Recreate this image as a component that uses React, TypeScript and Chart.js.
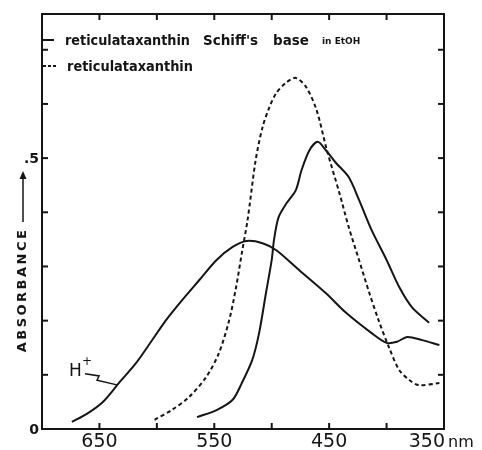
import React, { useEffect, useRef } from "react";
import { Chart, registerables } from "chart.js";

Chart.register(...registerables);

// Reticulataxanthin Schiff's base in EtOH (solid)
const schiffWavelengths = [565, 548, 534, 526, 517, 511, 505, 500, 498, 494, 487, 479, 474, 467, 460, 453, 444, 433, 424, 413, 400, 389, 378, 363];
const schiffAbsorbance = [0.022, 0.035, 0.054, 0.085, 0.127, 0.177, 0.251, 0.312, 0.349, 0.391, 0.417, 0.441, 0.478, 0.515, 0.530, 0.515, 0.491, 0.465, 0.423, 0.367, 0.312, 0.262, 0.225, 0.196];

// Protonated Schiff's base (H+, solid)
const protonWavelengths = [674, 661, 647, 633, 618, 607, 592, 578, 563, 548, 534, 522, 508, 496, 476, 453, 435, 413, 400, 391, 382, 369, 354];
const protonAbsorbance = [0.013, 0.028, 0.050, 0.085, 0.122, 0.155, 0.201, 0.238, 0.275, 0.312, 0.336, 0.347, 0.343, 0.330, 0.293, 0.251, 0.214, 0.177, 0.159, 0.161, 0.170, 0.164, 0.155];

// Reticulataxanthin (dashed)
const retWavelengths = [602, 587, 572, 557, 546, 537, 531, 526, 521, 514, 508, 502, 496, 487, 479, 470, 461, 452, 441, 433, 424, 415, 407, 398, 389, 380, 372, 354];
const retAbsorbance = [0.017, 0.035, 0.059, 0.096, 0.140, 0.201, 0.262, 0.325, 0.386, 0.496, 0.557, 0.594, 0.620, 0.640, 0.648, 0.631, 0.589, 0.515, 0.435, 0.373, 0.312, 0.251, 0.201, 0.151, 0.109, 0.090, 0.081, 0.085];

const xTickValues = [400, 450, 500, 550, 600, 650];
const xLabelValues = [650, 550, 450];
const xLastLabel = 350;
const yTickValues = [0.1, 0.2, 0.3, 0.4, 0.5, 0.6, 0.7];
const yLabelValues = [0, 0.5];
const yLabelTexts = ["0", ".5"];

// H+ callout squiggle, in data coordinates (wavelength, absorbance)
const calloutWavelengths = [662.5, 650.3, 652.1, 633.8];
const calloutAbsorbance = [0.102, 0.098, 0.090, 0.081];

const legendSolid = "reticulataxanthin";
const legendSolidRest1 = "Schiff's";
const legendSolidRest2 = "base";
const legendSolidSolvent = "in EtOH";
const legendDashed = "reticulataxanthin";

const INK = "#151515";

const toPoints = (xs: number[], ys: number[]) => xs.map((x, i) => ({ x, y: ys[i] }));

const decoPlugin = {
  id: "deco",
  afterDatasetsDraw(chart: any) {
    const { ctx, chartArea: a, scales } = chart;
    const x = scales.x;
    const y = scales.y;
    ctx.save();
    ctx.strokeStyle = INK;
    ctx.fillStyle = INK;
    ctx.lineWidth = 2;
    ctx.lineCap = "butt";
    ctx.setLineDash([]);
    ctx.strokeRect(a.left, a.top, a.right - a.left, a.bottom - a.top);

    const seg = (x1: number, y1: number, x2: number, y2: number) => {
      ctx.beginPath();
      ctx.moveTo(x1, y1);
      ctx.lineTo(x2, y2);
      ctx.stroke();
    };
    xTickValues.forEach((v) => {
      const px = x.getPixelForValue(v);
      seg(px, a.bottom, px, a.bottom - 6);
      seg(px, a.top, px, a.top + 6);
    });
    yTickValues.forEach((v) => {
      const py = y.getPixelForValue(v);
      seg(a.left, py, a.left + 6, py);
      seg(a.right, py, a.right - 6, py);
    });

    // x labels
    ctx.font = '19px "DejaVu Sans"';
    ctx.textBaseline = "alphabetic";
    ctx.textAlign = "center";
    xLabelValues.forEach((v) => {
      ctx.fillText(String(v), x.getPixelForValue(v), 447);
    });
    ctx.textAlign = "right";
    const p350 = x.getPixelForValue(xLastLabel);
    ctx.fillText(String(xLastLabel), p350 + 1, 447);
    ctx.textAlign = "left";
    ctx.font = '16px "DejaVu Sans"';
    ctx.fillText("nm", p350 + 4, 447);

    // y labels
    ctx.textAlign = "right";
    ctx.textBaseline = "middle";
    ctx.font = 'bold 14px "DejaVu Sans"';
    yLabelValues.forEach((v, i) => {
      ctx.fillText(yLabelTexts[i], a.left - 3, y.getPixelForValue(v) + 1);
    });

    // ABSORBANCE title with arrow
    ctx.save();
    ctx.translate(23, 290);
    ctx.rotate(-Math.PI / 2);
    ctx.textAlign = "center";
    ctx.textBaseline = "middle";
    ctx.font = 'bold 13px "DejaVu Sans"';
    try { (ctx as any).letterSpacing = "2.5px"; } catch (e) {}
    ctx.fillText("ABSORBANCE", 0, 0);
    try { (ctx as any).letterSpacing = "0px"; } catch (e) {}
    ctx.restore();
    ctx.lineWidth = 1.5;
    seg(23, 222, 23, 178);
    ctx.beginPath();
    ctx.moveTo(23, 171);
    ctx.lineTo(19.5, 179);
    ctx.lineTo(26.5, 179);
    ctx.closePath();
    ctx.fill();

    // legend
    ctx.lineWidth = 2;
    seg(a.left + 1, 40, a.left + 12, 40);
    ctx.setLineDash([3, 2]);
    seg(a.left + 1, 66, a.left + 16, 66);
    ctx.setLineDash([]);
    ctx.textAlign = "left";
    ctx.textBaseline = "alphabetic";
    ctx.font = 'bold 13.5px "DejaVu Sans"';
    ctx.fillText(legendSolid, 65, 45, 125);
    ctx.fillText(legendSolidRest1, 203, 45, 62);
    ctx.fillText(legendSolidRest2, 273, 45, 40);
    ctx.font = 'bold 9px "DejaVu Sans"';
    ctx.fillText(legendSolidSolvent, 322, 44);
    ctx.font = 'bold 13.5px "DejaVu Sans"';
    ctx.fillText(legendDashed, 67, 71, 126);

    // H+ annotation
    ctx.font = '17px "DejaVu Sans"';
    ctx.fillText("H", 69, 376);
    ctx.font = '12px "DejaVu Sans"';
    ctx.fillText("+", 82, 365);
    ctx.lineWidth = 1.5;
    ctx.beginPath();
    calloutWavelengths.forEach((w, i) => {
      const px = x.getPixelForValue(w);
      const py = y.getPixelForValue(calloutAbsorbance[i]);
      if (i === 0) ctx.moveTo(px, py);
      else ctx.lineTo(px, py);
    });
    ctx.stroke();

    ctx.restore();
  },
};

export default function App() {
  const canvasRef = useRef<HTMLCanvasElement | null>(null);

  useEffect(() => {
    const canvas = canvasRef.current;
    if (!canvas) return;
    const chart = new Chart(canvas, {
      type: "line",
      data: {
        datasets: [
          {
            label: "reticulataxanthin Schiff's base in EtOH",
            data: toPoints(schiffWavelengths, schiffAbsorbance),
            borderColor: INK,
            borderWidth: 2,
            pointRadius: 0,
            tension: 0.3,
            fill: false,
          },
          {
            label: "H+",
            data: toPoints(protonWavelengths, protonAbsorbance),
            borderColor: INK,
            borderWidth: 2,
            pointRadius: 0,
            tension: 0.3,
            fill: false,
          },
          {
            label: "reticulataxanthin",
            data: toPoints(retWavelengths, retAbsorbance),
            borderColor: INK,
            borderWidth: 2,
            borderDash: [4, 3],
            pointRadius: 0,
            tension: 0.3,
            fill: false,
          },
        ],
      },
      options: {
        responsive: false,
        animation: false,
        devicePixelRatio: 1,
        layout: { padding: { left: 42, right: 38, top: 14, bottom: 21 } },
        plugins: { legend: { display: false }, tooltip: { enabled: false }, title: { display: false } },
        scales: {
          x: { type: "linear", min: 350, max: 700, reverse: true, display: false },
          y: { type: "linear", min: 0, max: 0.766, display: false },
        },
      },
      plugins: [decoPlugin],
    } as any);
    return () => chart.destroy();
  }, []);

  return (
    <div style={{ position: "fixed", left: 0, top: 0, width: 482, height: 450, background: "#fff" }}>
      <canvas ref={canvasRef} width={482} height={450} style={{ display: "block" }} />
    </div>
  );
}
